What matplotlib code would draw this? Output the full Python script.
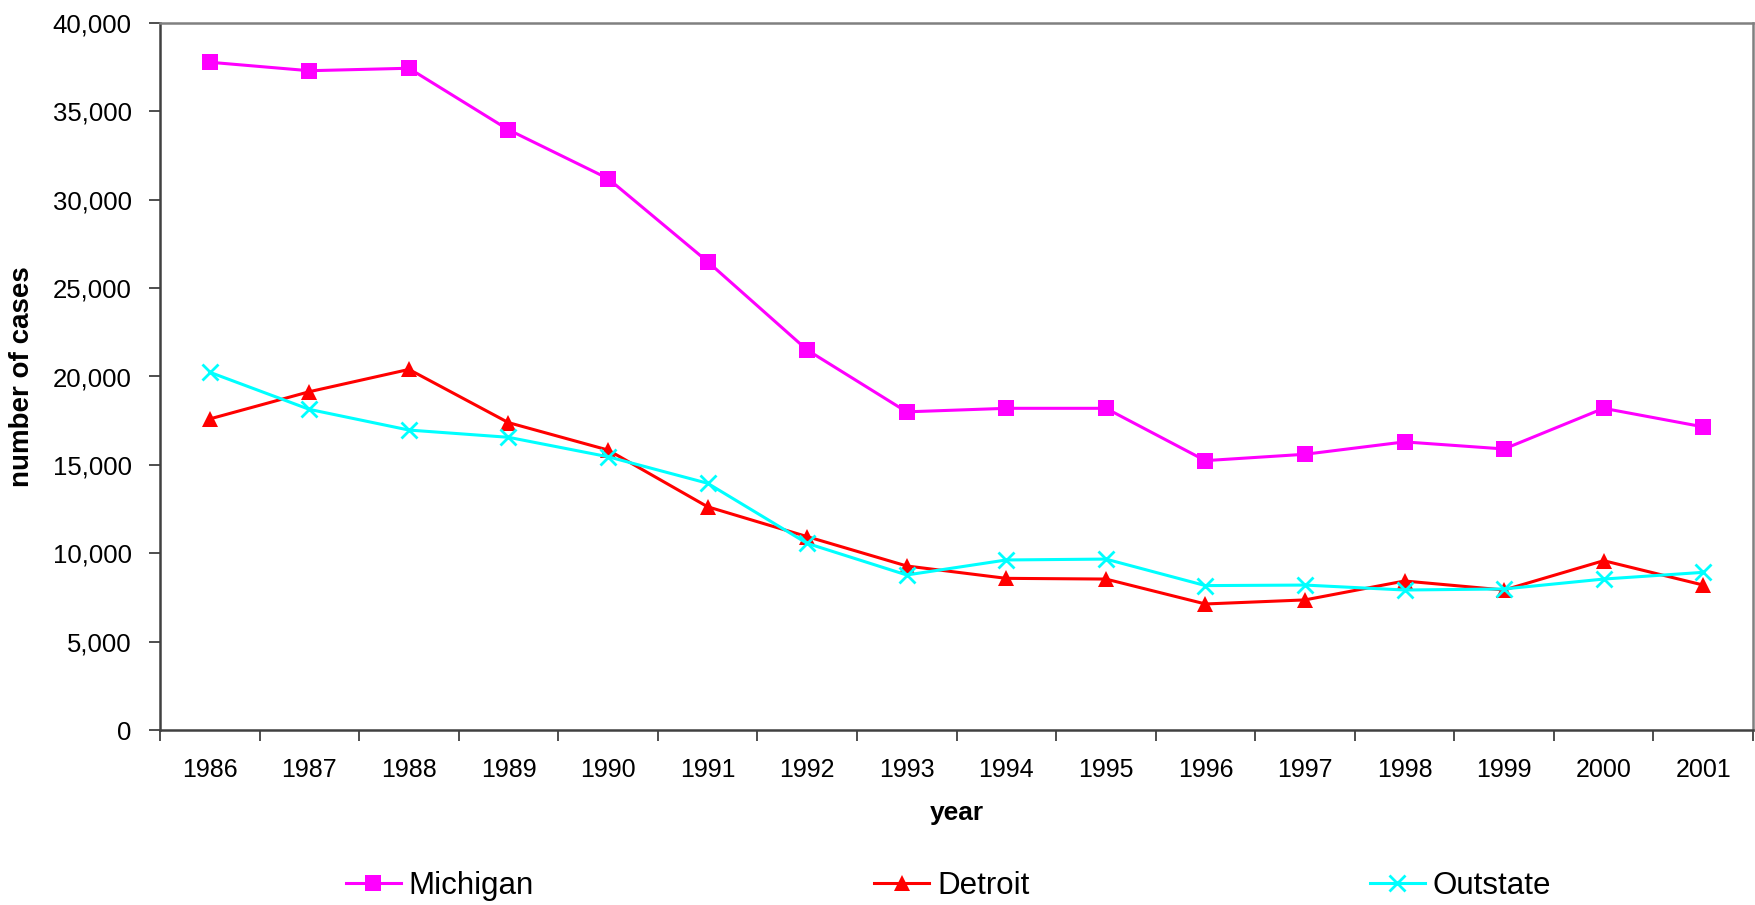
import matplotlib
matplotlib.use("Agg")
import matplotlib.pyplot as plt
from matplotlib.ticker import FuncFormatter, FixedLocator

plt.rcParams['font.family'] = ['Liberation Sans', 'DejaVu Sans']

years = ["1986", "1987", "1988", "1989", "1990", "1991", "1992", "1993",
         "1994", "1995", "1996", "1997", "1998", "1999", "2000", "2001"]
michigan = [37780, 37300, 37440, 33960, 31200, 26500, 21500, 18000,
            18200, 18200, 15240, 15600, 16300, 15900, 18200, 17150]
detroit = [17600, 19140, 20400, 17390, 15840, 12630, 10940, 9280,
           8580, 8540, 7130, 7360, 8430, 7920, 9580, 8200]
outstate = [20240, 18140, 16970, 16560, 15460, 13960, 10560, 8770,
            9620, 9670, 8170, 8200, 7920, 7980, 8540, 8920]

W, H = 1755, 905
fig = plt.figure(figsize=(W / 100, H / 100), dpi=100)
ax = fig.add_axes([160 / W, 1 - 730 / H, (1753 - 160) / W, (730 - 23) / H])

x = list(range(len(years)))
ax.plot(x, michigan, color='#FF00FF', lw=2.2, marker='s', markersize=11,
        markeredgewidth=0, label='Michigan', zorder=3)
ax.plot(x, detroit, color='#FF0000', lw=2.2, marker='^', markersize=12,
        markeredgewidth=0, label='Detroit', zorder=3)
ax.plot(x, outstate, color='#00FFFF', lw=2.2, marker='x', markersize=11,
        markeredgewidth=2, label='Outstate', zorder=3)

ax.set_xlim(-0.5, len(years) - 0.5)
ax.set_ylim(0, 40000)
ax.set_yticks(range(0, 40001, 5000))
ax.yaxis.set_major_formatter(FuncFormatter(lambda v, p: f"{int(v):,}"))
ax.set_xticks(x)
ax.set_xticklabels(years)
ax.xaxis.set_minor_locator(FixedLocator([i - 0.5 for i in range(len(years) + 1)]))

ax.tick_params(axis='x', which='major', length=0, labelsize=18, pad=20)
ax.tick_params(axis='x', which='minor', length=8, width=1.3, color='#404040', direction='out')
ax.tick_params(axis='y', which='major', length=8, width=1.3, color='#404040',
               direction='out', labelsize=18.5, pad=12.5)

for s in ['left', 'bottom']:
    ax.spines[s].set_color('#404040')
    ax.spines[s].set_linewidth(1.8)
for s in ['top', 'right']:
    ax.spines[s].set_color('#808080')
    ax.spines[s].set_linewidth(1.8)

ax.set_xlabel('year', fontsize=19, fontweight='bold')
ax.xaxis.set_label_coords((956.5 - 160) / (1753 - 160), -(801 - 730) / (730 - 23))
ax.set_ylabel('number of cases', fontsize=20, fontweight='bold')
ax.yaxis.set_label_coords(-(160 - 35) / (1753 - 160), 0.5)

fig.legend(loc='center', bbox_to_anchor=(948.5 / W, 1 - 886 / H), ncol=3,
           frameon=False, fontsize=22.5, handlelength=1.75, handletextpad=0.25,
           columnspacing=10.9, borderpad=0)

fig.savefig('out.png', dpi=100)
